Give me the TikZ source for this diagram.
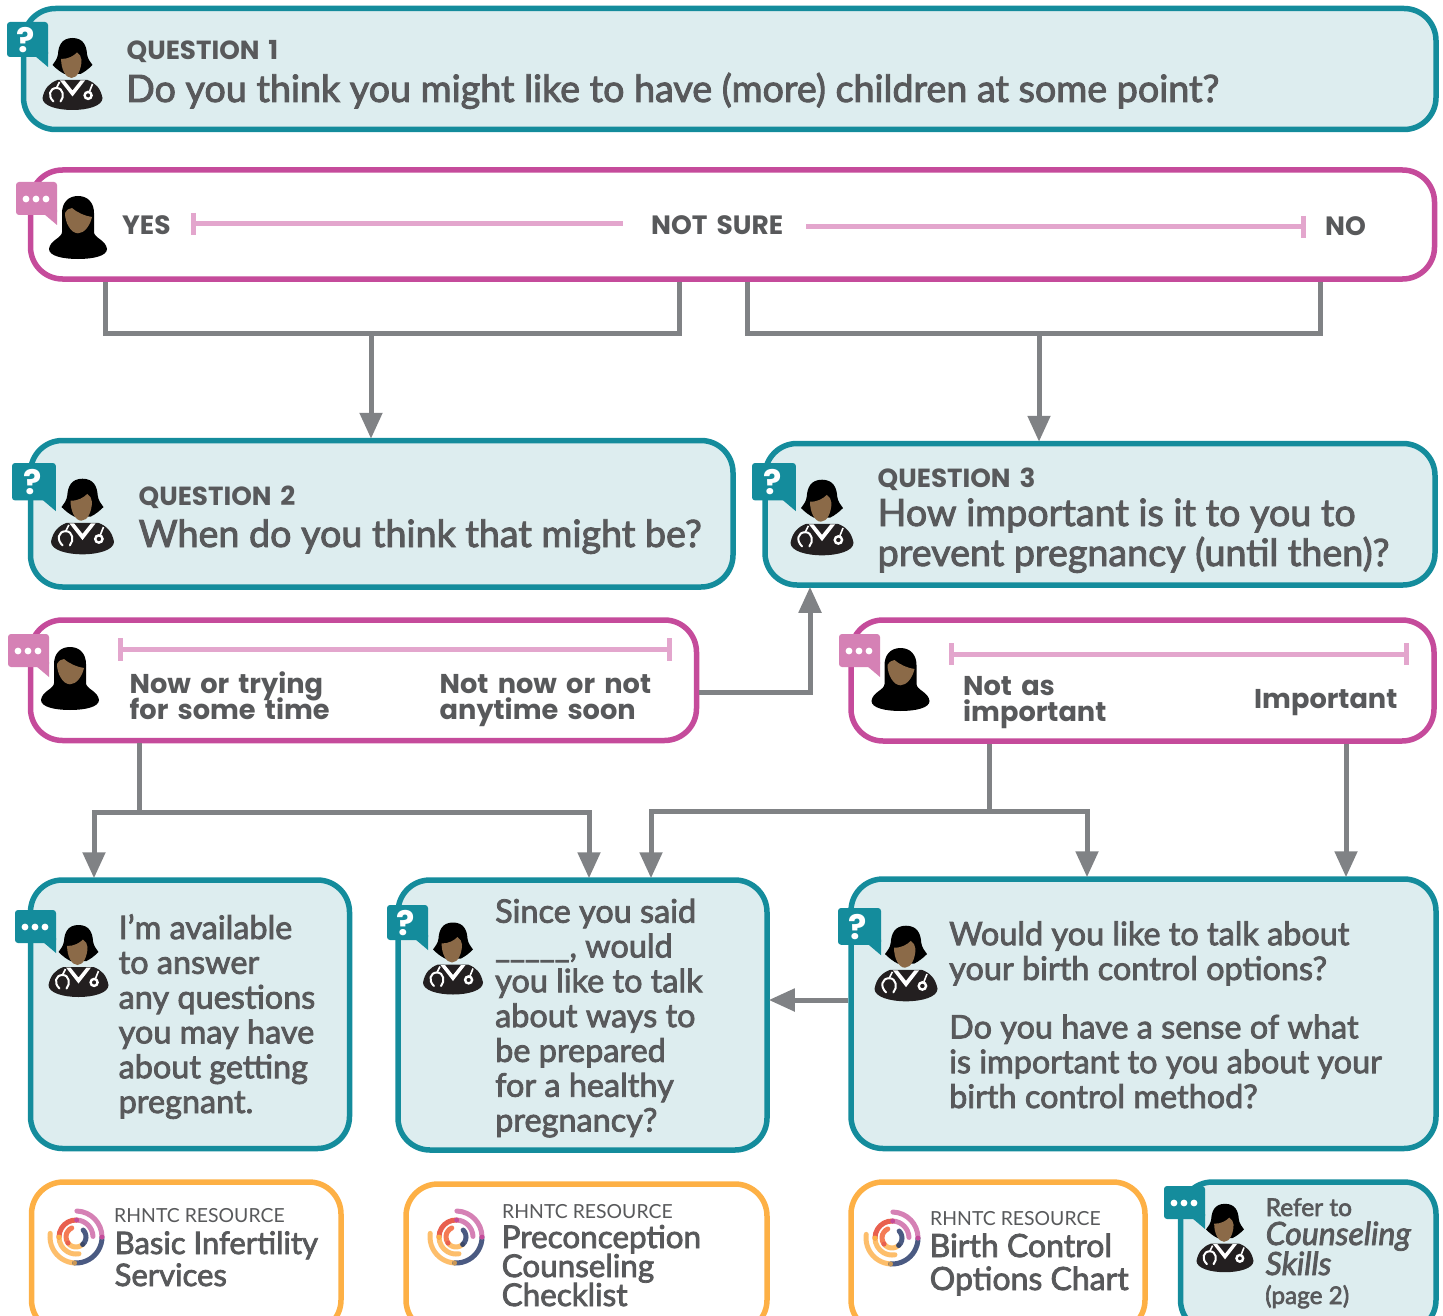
\documentclass[tikz,border=0pt]{standalone}
\usepackage{fontspec}
\usetikzlibrary{arrows.meta,fit}
\setmainfont{Lato}
\newfontfamily\bodyf{Lato}[FakeBold=2.5]
\newfontfamily\headf{Poppins}[BoldFont=Poppins Bold,WordSpace=1.6]
\AtBeginDocument{\lineskiplimit=-100pt\relax}
\definecolor{teal}{HTML}{148C9C}
\definecolor{paleteal}{HTML}{DDEDEF}
\definecolor{magenta}{HTML}{C54B9B}
\definecolor{pinkbub}{HTML}{D581B5}
\definecolor{pinkbar}{HTML}{E3A6CD}
\definecolor{amber}{HTML}{FDB045}
\definecolor{txtgrey}{HTML}{58595B}
\definecolor{conngrey}{HTML}{808285}
\definecolor{skin}{HTML}{8B6A48}
\definecolor{ink}{HTML}{231F20}
\definecolor{navy}{HTML}{4A5A82}
\definecolor{lorange}{HTML}{FDBE6B}
\definecolor{redl}{HTML}{E8604F}
\definecolor{coral}{HTML}{F47B55}
\tikzset{
  anybox/.style={rounded corners=32pt,line width=5.5pt,inner sep=0pt},
  qbox/.style={anybox,draw=teal,fill=paleteal},
  abox/.style={anybox,draw=magenta,fill=white},
  rbox/.style={anybox,draw=amber,fill=white},
  conn/.style={draw=conngrey,line width=5pt},
  arrowed/.style={-{Triangle[width=22pt,length=26pt]},shorten >=-1pt},
  scalebar/.style={draw=pinkbar,line width=5pt},
  txt/.style={anchor=base west,inner sep=0pt,text=txtgrey,align=left},
  head/.style={txt,font=\headf\bfseries\fontsize{26.2}{26}\selectfont},
  ans/.style={txt,font=\headf\bfseries\fontsize{27.2}{26}\selectfont},
  anscap/.style={txt,font=\headf\bfseries\fontsize{26.5}{26}\selectfont},
  big/.style={txt,font=\bodyf\fontsize{37.65}{40}\selectfont},
  mid/.style={txt,font=\bodyf\fontsize{32.4}{34.8}\selectfont},
  restag/.style={txt,font=\fontsize{19.4}{24}\selectfont},
  doctor/.pic={
    \fill[black] (0,-36) .. controls (-11,-36) and (-14,-28) .. (-14.5,-20) .. controls (-15,-15) and (-18,-12) .. (-20,-9) .. controls (-16,-5) and (-12,-2) .. (-8,0) -- (8,0) .. controls (12,-2) and (16,-5) .. (20,-9) .. controls (18,-12) and (15,-15) .. (14.5,-20) .. controls (14,-28) and (11,-36) .. (0,-36) -- cycle;
    \fill[skin] (-11.4,-15) .. controls (-4,-15) and (1,-18) .. (4.5,-21.5) .. controls (7,-20) and (9,-17) .. (9,-14) .. controls (9,-5) and (5,4) .. (-1,4) .. controls (-7,4) and (-11.4,-5) .. (-11.4,-15) -- cycle;
    \fill[ink] (-15,6) .. controls (-23,9) and (-28,14) .. (-30,24) .. controls (-30,32) and (-15,36) .. (0,36) .. controls (15,36) and (30,32) .. (30,24) .. controls (28,14) and (23,9) .. (15,6) -- cycle;
    \fill[white] (-12.5,6.5) -- (-8,6.5) -- (0,16.5) -- (8,6.5) -- (12.5,6.5) -- (0,22.5) -- cycle;
    \draw[white,line width=2pt,line cap=round] (-19,27.5) .. controls (-25,22) and (-23,14) .. (-16,14) .. controls (-9,14) and (-8,23) .. (-12,27.5);
    \draw[white,line width=1.6pt] (-16,14) -- (-13,8);
    \draw[white,line width=2.4pt] (15.6,21.4) circle (3.5);
    \draw[white,line width=1.6pt] (17,17.5) -- (20,10);
  },
  patient/.pic={
    \fill[black] (0,-32) .. controls (-10,-32) and (-16,-25) .. (-16,-15) -- (-16,4) .. controls (-16,10) and (-28,12) .. (-29,21) .. controls (-29,28) and (-15,31) .. (0,31) .. controls (15,31) and (29,28) .. (29,21) .. controls (28,12) and (16,10) .. (16,4) -- (16,-15) .. controls (16,-25) and (10,-32) .. (0,-32) -- cycle;
    \fill[skin] (-13,-15) .. controls (-11,-18) and (-9,-20) .. (-6,-20) .. controls (0,-15) and (7,-12) .. (14,-11) .. controls (12,-2) and (6,5.3) .. (0,5.3) .. controls (-7,5.3) and (-13,-5) .. (-13,-15) -- cycle;
  },
  qbubble/.pic={
    \fill[teal,rounded corners=3pt] (0,0) rectangle (41,35);
    \fill[teal] (28,34) -- (41,45) -- (41,30) -- cycle;
    \node[inner sep=0pt,text=white,font=\headf\bfseries\fontsize{34}{34}\selectfont] (-qm) at (19,18) {?};
  },
  dotbubble/.pic={
    \fill[#1,rounded corners=3pt] (0,0) rectangle (41,33);
    \fill[#1] (28,32) -- (41,43) -- (41,28) -- cycle;
    \fill[white] (10,17) circle (3.4) (20,17) circle (3.4) (30,17) circle (3.4);
  },
  logo/.pic={
    \begin{scope}[y=1pt,x=1pt,line width=5pt,line cap=round]
      \draw[lorange] (-93:26) arc (-93:-188:26);
      \draw[lorange] (-180:17) arc (-180:-80:17);
      \draw[navy] (0:26) arc (0:-93:26);
      \draw[pinkbub] (88:26) arc (88:0:26);
      \draw[pinkbub] (88:17) arc (88:2:17);
      \draw[redl] (88:17) arc (88:180:17);
      \draw[lorange] (217:10) arc (217:312:10);
      \draw[coral] (115:10) arc (115:217:10);
      \draw[navy] (44:10) arc (44:-48:10);
      \fill[magenta] (88:17) circle (2.4) (0:26) circle (2.4);
      \fill[lorange!80!black] (-93:26) circle (2.4);
      \fill[amber] (180:17) circle (2.4);
      \fill[redl] (217:10) circle (2.4);
      \fill[navy!80!black] (-48:10) circle (2.4);
    \end{scope}
  }
}
\begin{document}
\begin{tikzpicture}[x=1pt,y=-1pt]
\useasboundingbox (0,0) rectangle (1443,1316);
\clip (0,0) rectangle (1443,1316);
% boxes
\node[qbox,fit={(23.5,8.5)(1436,129.5)}] (q1) {};
\node[abox,fit={(30.5,170)(1434.5,279)}] (a1) {};
\node[qbox,fit={(30.5,440.5)(733,587)}] (q2) {};
\node[qbox,fit={(765,443.5)(1435,585)}] (q3) {};
\node[abox,fit={(30.5,620)(696.5,740.5)}] (a2) {};
\node[abox,fit={(851,620)(1434,741)}] (a3) {};
\node[qbox,fit={(30.5,880)(349.5,1148.5)}] (b1) {};
\node[qbox,fit={(398,880)(767,1150)}] (b2) {};
\node[qbox,fit={(851,879)(1436,1148.5)}] (b3) {};
\node[rbox,fit={(31.5,1182)(341,1332)}] (r1) {};
\node[rbox,fit={(406,1184)(767,1332)}] (r2) {};
\node[rbox,fit={(851,1182)(1145,1332)}] (r3) {};
\node[qbox,fit={(1180.5,1182)(1436,1332)}] (r4) {};
% connectors
\coordinate (ja1) at (371,333);
\coordinate (ja2) at (1039,333);
\coordinate (ja3) at (139,812);
\coordinate (ja4) at (989,811);
\draw[conn] (a1.south -| 105,0) |- (ja1) -| (a1.south -| 679,0);
\draw[conn,arrowed] (ja1) -- (q2.north -| ja1);
\draw[conn] (a1.south -| 747,0) |- (ja2) -| (a1.south -| 1320,0);
\draw[conn,arrowed] (ja2) -- (q3.north -| ja2);
\draw[conn,arrowed] (a2.east |- 0,692) -| (q3.south -| 810,0);
\draw[conn] (a2.south -| ja3) -- (ja3);
\draw[conn,arrowed] (ja3) -| (b1.north -| 94,0);
\draw[conn,arrowed] (ja3) -| (b2.north -| 589,0);
\draw[conn] (a3.south -| ja4) -- (ja4);
\draw[conn,arrowed] (ja4) -| (b2.north -| 651,0);
\draw[conn,arrowed] (ja4) -| (b3.north -| 1087,0);
\draw[conn,arrowed] (a3.south -| 1346,0) -- (b3.north -| 1346,0);
\draw[conn,arrowed] (b3.west |- 0,1000) -- (b2.east |- 0,1000);
% scales
\draw[scalebar] (193,213) -- (193,235) (193,224) -- (623,224);
\draw[scalebar] (806,227) -- (1303,227) (1303,216) -- (1303,238);
\draw[scalebar] (120,638) -- (120,661) (120,649) -- (669,649) (669,638) -- (669,661);
\draw[scalebar] (951,643) -- (951,665) (951,654) -- (1406,654) (1406,643) -- (1406,665);
% icons
\pic at (72.5,74) {doctor};
\pic at (7,22) {qbubble};
\pic at (78,228) {patient};
\pic at (16,182) {dotbubble=pinkbub};
\pic[scale=1.05] at (82.5,516.5) {doctor};
\pic[scale=1.07] at (12,463) {qbubble};
\pic[scale=1.05] at (822,517.5) {doctor};
\pic[scale=1.07] at (752,463) {qbubble};
\pic at (70,679) {patient};
\pic at (8,634) {dotbubble=pinkbub};
\pic at (900.5,680) {patient};
\pic at (839,634) {dotbubble=pinkbub};
\pic at (78.5,961) {doctor};
\pic at (15,910) {dotbubble=teal};
\pic at (453,958.5) {doctor};
\pic at (387,905) {qbubble};
\pic[scale=1.05] at (906,963.5) {doctor};
\pic[scale=1.05] at (838,908) {qbubble};
\pic[scale=.95] at (1225,1238) {doctor};
\pic at (1164,1186) {dotbubble=teal};
\pic at (76,1237) {logo};
\pic at (456,1237) {logo};
\pic at (892,1238) {logo};
% text
\node[head] (tq1) at (126.5,60) {QUESTION 1};
\node[big] (tq1b) at (126,102) {Do you think you might like to have (more) children at some point?};
\node[anscap] (t1) at (122,234) {YES};
\node[anscap] (t2) at (651,235) {NOT SURE};
\node[anscap] (t3) at (1325,236) {NO};
\node[head] (tq2) at (138.5,505) {QUESTION 2};
\node[big] (tq2b) at (138.5,547) {When do you think that might be?};
\node[head] (tq3) at (877.5,487) {QUESTION 3};
\node[big] (tq3b) at (877.5,566) {How important is it to you to\\prevent pregnancy (until then)?};
\node[ans] (t4) at (129.5,719) {Now or trying\\for some time};
\node[ans] (t5) at (439.5,719) {Not now or not\\anytime soon};
\node[ans] (t6) at (963,721) {Not as\\important};
\node[ans] (t7) at (1254,708) {Important};
\node[mid] (tb1) at (118.5,1113) {I’m available\\to answer\\any questions\\you may have\\about getting\\pregnant.};
\node[mid] (tb2) at (495,1131.5) {Since you said\\\_\_\_\_\_, would\\you like to talk\\about ways to\\be prepared\\for a healthy\\pregnancy?};
\node[mid] (tb3) at (949,980) {Would you like to talk about\\your birth control options?};
\node[mid] (tb4) at (949,1108) {Do you have a sense of what\\is important to you about your\\birth control method?};
\node[restag] (tr1) at (114,1222) {RHNTC RESOURCE};
\node[txt,font=\bodyf\fontsize{31}{32}\selectfont] (tr1b) at (114.5,1286) {Basic Infertility\\Services};
\node[restag] (tr2) at (502,1218) {RHNTC RESOURCE};
\node[txt,font=\bodyf\fontsize{31.4}{29}\selectfont] (tr2b) at (501.5,1306) {Preconception\\Counseling\\Checklist};
\node[restag] (tr3) at (930,1225) {RHNTC RESOURCE};
\node[txt,font=\bodyf\fontsize{32}{33}\selectfont] (tr3b) at (929.5,1290) {Birth Control\\Options Chart};
\node[txt,font=\bodyf\fontsize{24.5}{25}\selectfont] (tr4a) at (1265.5,1216) {Refer to};
\node[txt,font=\bodyf\itshape\fontsize{32}{30}\selectfont] (tr4b) at (1265.5,1275) {Counseling\\Skills};
\node[txt,font=\bodyf\fontsize{24.3}{25}\selectfont] (tr4c) at (1265,1304) {(page 2)};
\end{tikzpicture}
\end{document}
